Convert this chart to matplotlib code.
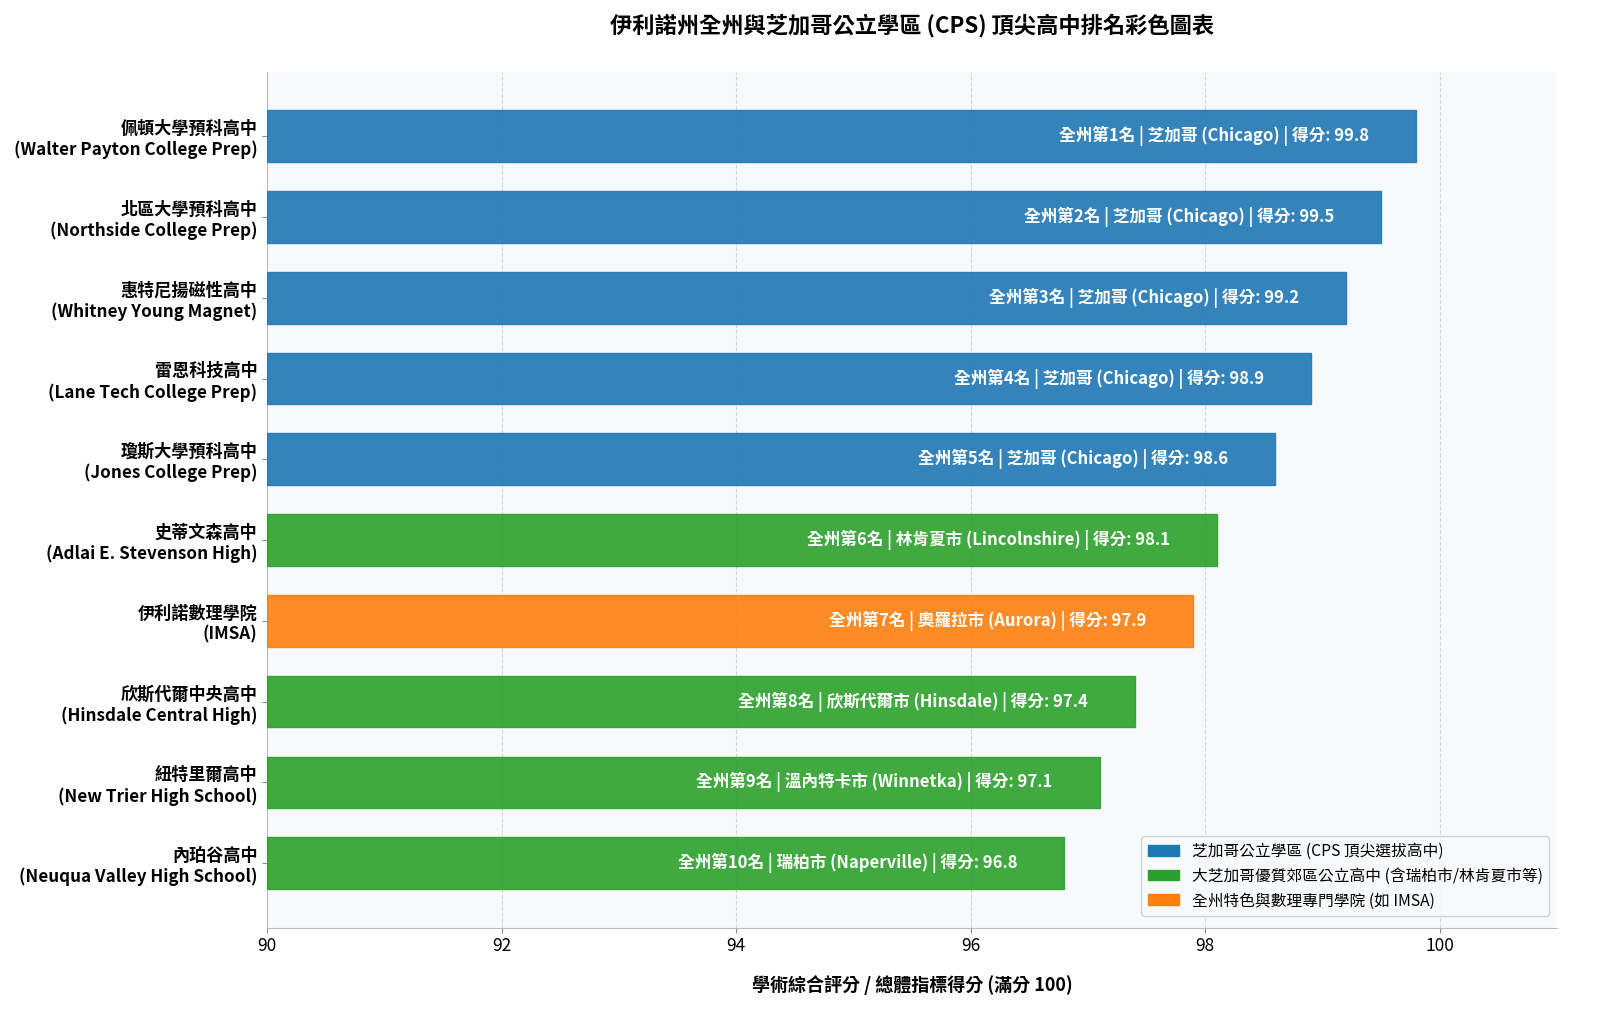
import matplotlib
matplotlib.use("Agg")
import matplotlib.pyplot as plt
from matplotlib.patches import Patch

plt.rcParams['font.family'] = ['Noto Sans CJK TC', 'DejaVu Sans']

schools_zh = ["佩頓大學預科高中", "北區大學預科高中", "惠特尼揚磁性高中", "雷恩科技高中",
              "瓊斯大學預科高中", "史蒂文森高中", "伊利諾數理學院", "欣斯代爾中央高中",
              "紐特里爾高中", "內珀谷高中"]
schools_en = ["Walter Payton College Prep", "Northside College Prep", "Whitney Young Magnet",
              "Lane Tech College Prep", "Jones College Prep", "Adlai E. Stevenson High",
              "IMSA", "Hinsdale Central High", "New Trier High School", "Neuqua Valley High School"]
ranks = [1, 2, 3, 4, 5, 6, 7, 8, 9, 10]
cities = ["芝加哥 (Chicago)", "芝加哥 (Chicago)", "芝加哥 (Chicago)", "芝加哥 (Chicago)",
          "芝加哥 (Chicago)", "林肯夏市 (Lincolnshire)", "奧羅拉市 (Aurora)",
          "欣斯代爾市 (Hinsdale)", "溫內特卡市 (Winnetka)", "瑞柏市 (Naperville)"]
scores = [99.8, 99.5, 99.2, 98.9, 98.6, 98.1, 97.9, 97.4, 97.1, 96.8]
groups = ["cps", "cps", "cps", "cps", "cps", "suburb", "special", "suburb", "suburb", "suburb"]

group_colors = {"cps": "#1f77b4", "suburb": "#2ca02c", "special": "#ff7f0e"}
group_labels = {"cps": "芝加哥公立學區 (CPS 頂尖選拔高中)",
                "suburb": "大芝加哥優質郊區公立高中 (含瑞柏市/林肯夏市等)",
                "special": "全州特色與數理專門學院 (如 IMSA)"}

fig, ax = plt.subplots(figsize=(16, 10.24), dpi=100)
fig.subplots_adjust(left=0.167, right=0.973, top=0.93, bottom=0.094)
ax.set_facecolor("#f8f9fb")

y = list(range(len(scores)))
colors = [group_colors[g] for g in groups]
ax.barh(y, [s - 90 for s in scores], left=90, height=0.64, color=colors,
        edgecolor=colors, alpha=0.9, zorder=3)

for yi, r, c, s in zip(y, ranks, cities, scores):
    ax.text(s - 0.4, yi, f"全州第{r}名 | {c} | 得分: {s}", ha="right", va="center",
            color="white", fontsize=12, fontweight="bold", zorder=4)

ax.set_yticks(y)
ax.set_yticklabels([f"{z}\n({e})" for z, e in zip(schools_zh, schools_en)],
                   fontsize=12.3, fontweight="bold")
ax.set_ylim(9.8, -0.8)
ax.set_xlim(90, 101)
ax.set_xticks([90, 92, 94, 96, 98, 100])
ax.tick_params(axis="x", labelsize=12.5, color="#888888")
ax.tick_params(axis="y", color="#888888")
ax.grid(axis="x", linestyle="--", color="#cccccc", alpha=0.8, zorder=0)
ax.set_axisbelow(True)
for sp in ["top", "right"]:
    ax.spines[sp].set_visible(False)
for sp in ["left", "bottom"]:
    ax.spines[sp].set_color("#bbbbbb")

ax.set_xlabel("學術綜合評分 / 總體指標得分 (滿分 100)", fontsize=13, fontweight="bold", labelpad=14)
ax.set_title("伊利諾州全州與芝加哥公立學區 (CPS) 頂尖高中排名彩色圖表", fontsize=16,
             fontweight="bold", pad=28)

handles = [Patch(facecolor=group_colors[k], edgecolor=group_colors[k], label=group_labels[k])
           for k in ["cps", "suburb", "special"]]
ax.legend(handles=handles, loc="lower right", fontsize=11.3, framealpha=0.9, facecolor="#f8f9fb",
          bbox_to_anchor=(1.0, 0.005))

fig.savefig("out.png", dpi=100)
